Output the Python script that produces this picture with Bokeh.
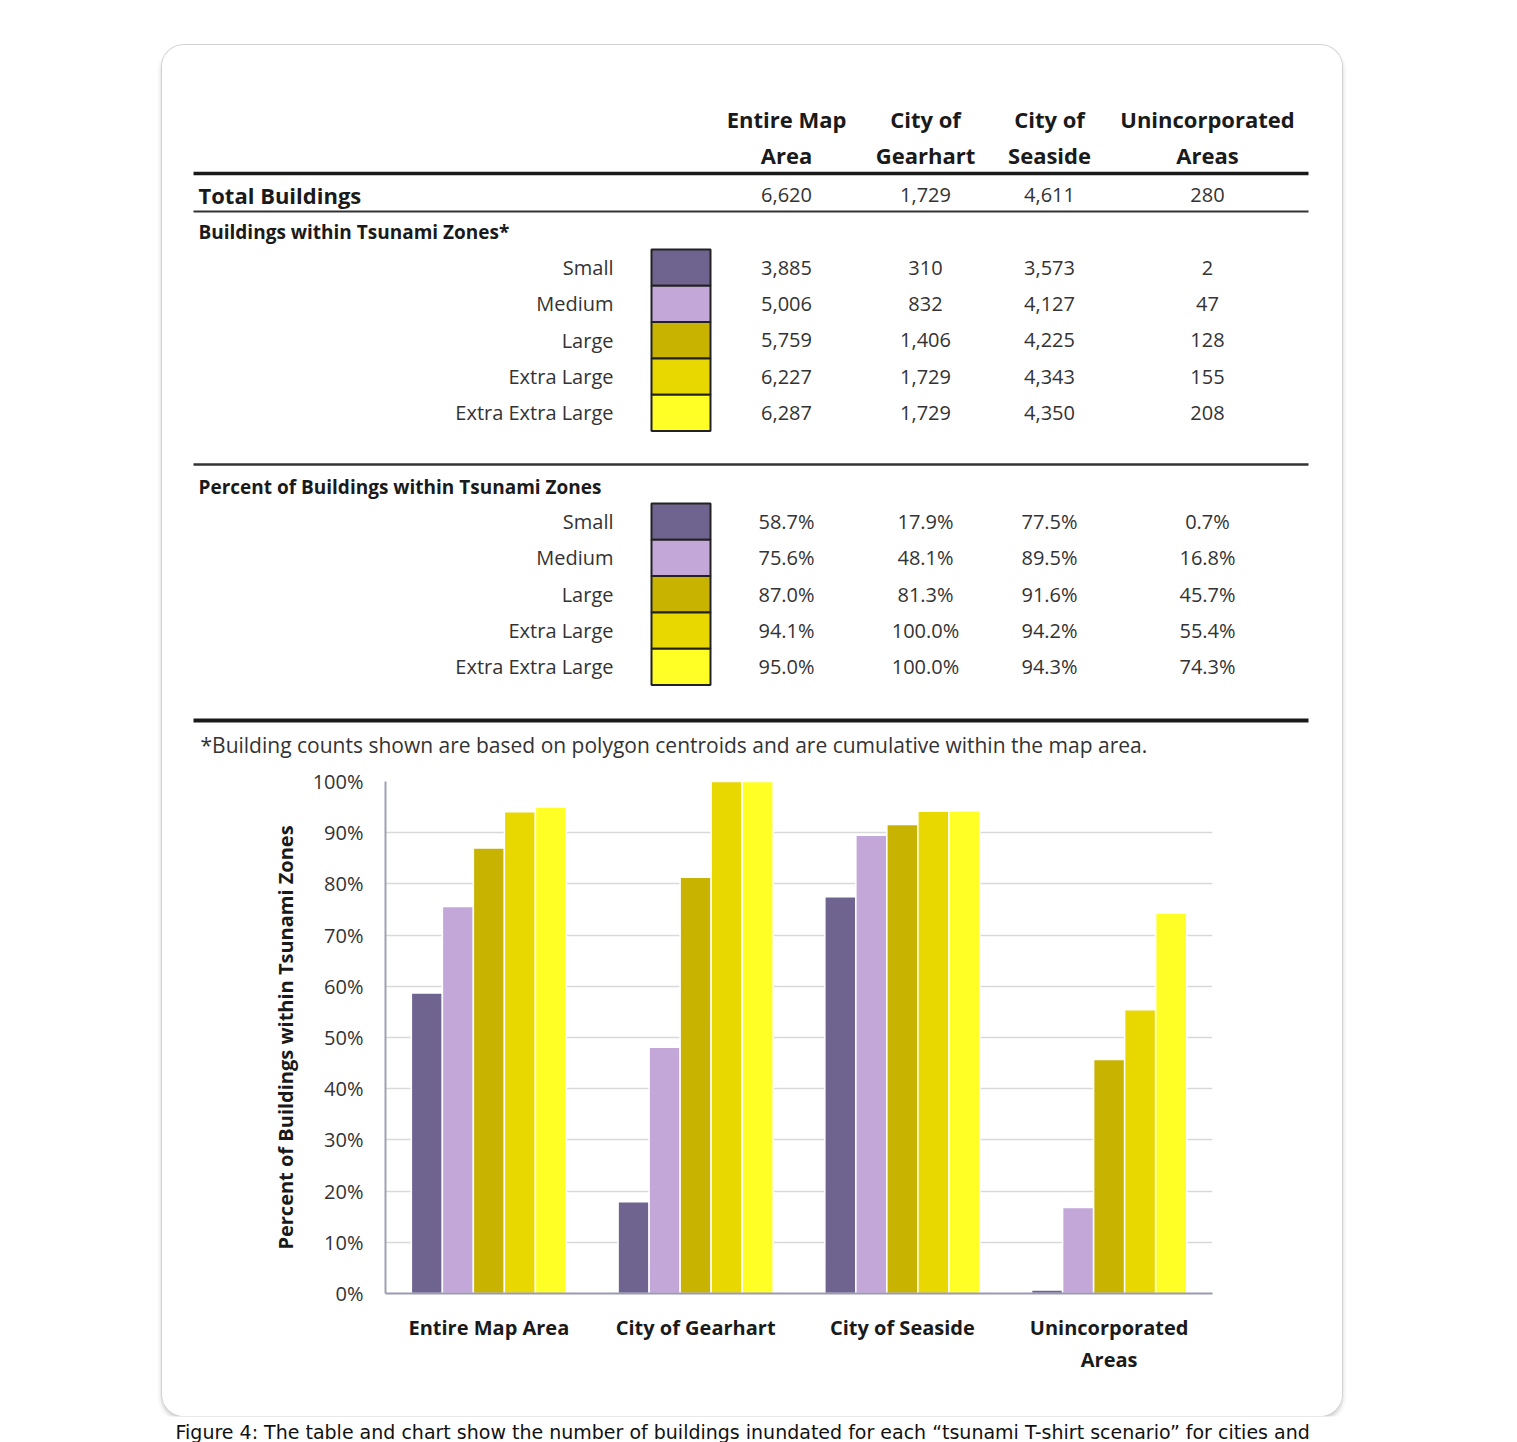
from bokeh.plotting import figure
from bokeh.models import Range1d, FactorRange, FixedTicker, PrintfTickFormatter
from bokeh.transform import dodge
from bokeh.layouts import column
from bokeh.core.properties import value
from bokeh.embed import file_html
from bokeh.resources import INLINE

# ---------------- data ----------------
areas = ["Entire Map Area", "City of Gearhart", "City of Seaside", "Unincorporated Areas"]
area_head_1 = ["Entire Map", "City of", "City of", "Unincorporated"]
area_head_2 = ["Area", "Gearhart", "Seaside", "Areas"]
axis_labels = ["Entire Map Area", "City of Gearhart", "City of Seaside", "Unincorporated\nAreas"]
sizes = ["Small", "Medium", "Large", "Extra Large", "Extra Extra Large"]
total_buildings = [6620, 1729, 4611, 280]

count_small = [3885, 310, 3573, 2]
count_medium = [5006, 832, 4127, 47]
count_large = [5759, 1406, 4225, 128]
count_xl = [6227, 1729, 4343, 155]
count_xxl = [6287, 1729, 4350, 208]

pct_small = [58.7, 17.9, 77.5, 0.7]
pct_medium = [75.6, 48.1, 89.5, 16.8]
pct_large = [87.0, 81.3, 91.6, 45.7]
pct_xl = [94.1, 100.0, 94.2, 55.4]
pct_xxl = [95.0, 100.0, 94.3, 74.3]

colors = ["#6F6490", "#C4A7D9", "#C8B400", "#E9D700", "#FFFF26"]
y_ticks = [0, 10, 20, 30, 40, 50, 60, 70, 80, 90, 100]

counts = [count_small, count_medium, count_large, count_xl, count_xxl]
pcts = [pct_small, pct_medium, pct_large, pct_xl, pct_xxl]

FONT_NAME = "Open Sans"
FONT = value(FONT_NAME)
BOX_L, BOX_R, BOX_T = 162, 1342, 45
TABLE_H = 715
CHART_H = 656
BOX_W = BOX_R - BOX_L
DARK = "#1a1a1a"
GREY = "#333333"

# ---------------- table figure (page pixel coordinates) ----------------
t = figure(width=BOX_W, height=TABLE_H, output_backend="svg", toolbar_location=None,
           x_range=Range1d(BOX_L, BOX_R), y_range=Range1d(BOX_T + TABLE_H, BOX_T),
           min_border=0, outline_line_color=None, background_fill_color="white",
           border_fill_color="white", frame_align=False)
t.axis.visible = False
t.grid.visible = False

col_x = [786, 925, 1049, 1207]

# header
t.text(x=col_x, y=[118] * 4, text=area_head_1, text_font=FONT, text_font_style="bold",
       text_font_size="22px", text_align="center", text_baseline="middle", text_color=DARK)
t.text(x=col_x, y=[154] * 4, text=area_head_2, text_font=FONT, text_font_style="bold",
       text_font_size="22px", text_align="center", text_baseline="middle", text_color=DARK)

# rules
t.segment(x0=[193], y0=[173], x1=[1308], y1=[173], line_color=DARK, line_width=3.5)
t.segment(x0=[193], y0=[211], x1=[1308], y1=[211], line_color=GREY, line_width=2)
t.segment(x0=[193], y0=[464], x1=[1308], y1=[464], line_color=GREY, line_width=2.5)
t.segment(x0=[193], y0=[720], x1=[1308], y1=[720], line_color=DARK, line_width=4)

# total buildings
t.text(x=[198], y=[194], text=["Total Buildings"], text_font=FONT, text_font_style="bold",
       text_font_size="22px", text_align="left", text_baseline="middle", text_color=DARK)
t.text(x=col_x, y=[194] * 4, text=[f"{v:,}" for v in total_buildings], text_font=FONT,
       text_font_size="20px", text_align="center", text_baseline="middle", text_color=GREY)

# section titles
t.text(x=[198], y=[231], text=["Buildings within Tsunami Zones*"], text_font=FONT,
       text_font_style="bold", text_font_size="19px", text_align="left",
       text_baseline="middle", text_color=DARK)
t.text(x=[198], y=[486], text=["Percent of Buildings within Tsunami Zones"], text_font=FONT,
       text_font_style="bold", text_font_size="19px", text_align="left",
       text_baseline="middle", text_color=DARK)

row_h = 36.3
for sec_top, data, fmt in [(249.0, counts, "{:,}"), (503.0, pcts, "{:.1f}%")]:
    ys = [sec_top + row_h * (i + 0.5) for i in range(len(sizes))]
    t.text(x=[613] * len(sizes), y=ys, text=sizes, text_font=FONT, text_font_size="20px",
           text_align="right", text_baseline="middle", text_color=GREY)
    t.quad(left=[651] * len(sizes), right=[710] * len(sizes),
           top=[sec_top + row_h * i for i in range(len(sizes))],
           bottom=[sec_top + row_h * (i + 1) for i in range(len(sizes))],
           fill_color=colors, line_color="#222222", line_width=2)
    for j, cx in enumerate(col_x):
        t.text(x=[cx] * len(sizes), y=ys, text=[fmt.format(row[j]) for row in data],
               text_font=FONT, text_font_size="20px", text_align="center",
               text_baseline="middle", text_color=GREY)

t.text(x=[200], y=[744],
       text=["*Building counts shown are based on polygon centroids and are cumulative within the map area."],
       text_font=FONT, text_font_size="21px", text_align="left", text_baseline="middle",
       text_color=GREY)

# ---------------- bar chart ----------------
c = figure(width=BOX_W, height=CHART_H, output_backend="svg", toolbar_location=None,
           x_range=FactorRange(factors=axis_labels), y_range=Range1d(0, 100),
           min_border_left=223, min_border_right=130, min_border_top=21, min_border_bottom=123,
           outline_line_color=None, background_fill_color="white", border_fill_color="white",
           frame_align=False)

offsets = [-0.3, -0.15, 0.0, 0.15, 0.3]
for i, (vals, col) in enumerate(zip(pcts, colors)):
    src = {"cat": axis_labels, "val": vals}
    c.vbar(x=dodge("cat", offsets[i], range=c.x_range), top="val", width=0.15,
           source=src, fill_color=col, line_color="white", line_width=1.5)

c.yaxis.ticker = FixedTicker(ticks=y_ticks)
c.yaxis.formatter = PrintfTickFormatter(format="%d%%")
c.yaxis.major_label_text_font = FONT_NAME
c.yaxis.major_label_text_font_size = "20px"
c.yaxis.major_label_text_color = GREY
c.yaxis.major_label_standoff = 22
c.yaxis.major_tick_out = 0
c.yaxis.major_tick_in = 0
c.yaxis.minor_tick_out = 0
c.yaxis.minor_tick_in = 0
c.yaxis.axis_line_color = "#a0a0b0"
c.yaxis.axis_line_width = 2
c.yaxis.axis_label = "Percent of Buildings within Tsunami Zones"
c.yaxis.axis_label_text_font = FONT_NAME
c.yaxis.axis_label_text_font_style = "bold"
c.yaxis.axis_label_text_font_size = "20px"
c.yaxis.axis_label_text_color = DARK
c.yaxis.axis_label_standoff = 11

c.xaxis.major_label_text_font = FONT_NAME
c.xaxis.major_label_text_font_style = "bold"
c.xaxis.major_label_text_font_size = "20px"
c.xaxis.major_label_text_color = DARK
c.xaxis.major_label_standoff = 20
c.xaxis.major_tick_out = 0
c.xaxis.major_tick_in = 0
c.xaxis.axis_line_color = "#9a9ab4"
c.xaxis.axis_line_width = 2

c.xgrid.visible = False
c.ygrid.grid_line_color = "#d9d9d9"
c.ygrid.grid_line_width = 1.5

box = column(t, c, margin=(BOX_T, 0, 0, BOX_L), spacing=0,
             styles={"border-radius": "22px", "overflow": "hidden",
                     "box-shadow": "0 0 0 1px #d2d2d2, 0 3px 4px 1px rgba(0,0,0,0.18)",
                     "background-color": "white"})

# ---------------- caption below the box ----------------
cap = figure(width=1517, height=26, output_backend="svg", toolbar_location=None,
             x_range=Range1d(0, 1517), y_range=Range1d(1442, 1416), min_border=0,
             outline_line_color=None, background_fill_color="white", border_fill_color="white",
             frame_align=False)
cap.axis.visible = False
cap.grid.visible = False
cap.text(x=[175], y=[1431],
         text=["Figure 4: The table and chart show the number of buildings inundated for each \u201ctsunami T-shirt scenario\u201d for cities and"],
         text_font=value("DejaVu Sans"), text_font_size="19px", text_align="left",
         text_baseline="middle", text_color="#111111")

root = column(box, cap, spacing=0)

with open("out.html", "w") as f:
    f.write(file_html(root, INLINE))
